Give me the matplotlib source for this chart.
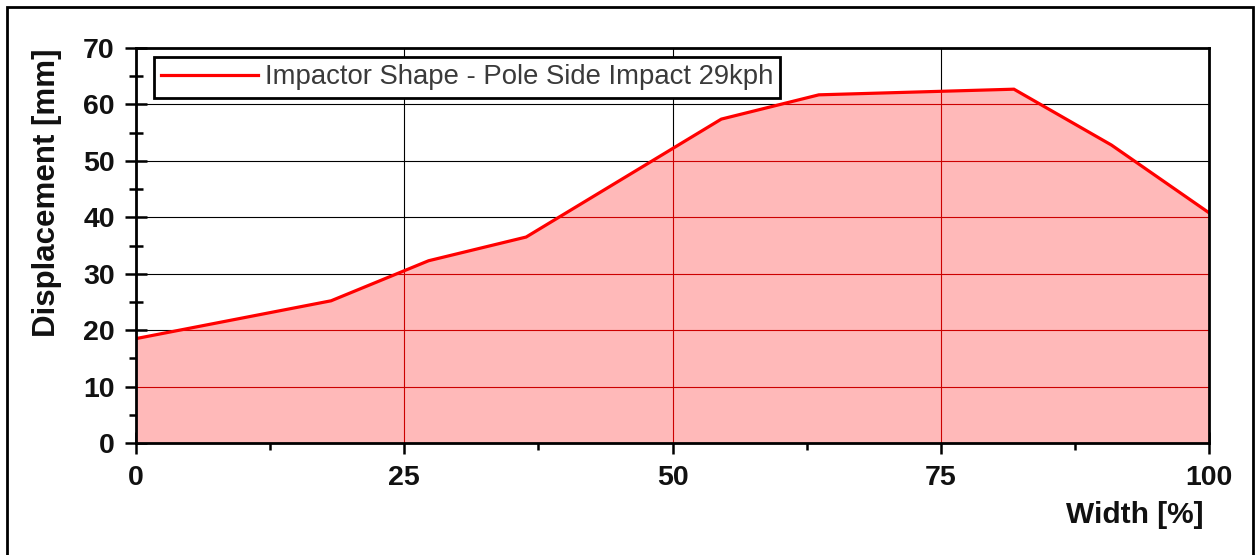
import matplotlib
matplotlib.use("Agg")
import matplotlib.pyplot as plt
from matplotlib.patches import Rectangle
from matplotlib.ticker import MultipleLocator

width_pct = [0, 18.18, 27.27, 36.36, 54.55, 63.64, 81.82, 90.91, 100]
displacement = [18.5, 25.2, 32.3, 36.5, 57.4, 61.7, 62.7, 52.8, 40.8]
series_label = "Impactor Shape - Pole Side Impact 29kph"
x_ticks = [0, 25, 50, 75, 100]
y_ticks = [0, 10, 20, 30, 40, 50, 60, 70]

plt.rcParams['font.family'] = ['Liberation Sans', 'DejaVu Sans']

W, H = 1258, 555
fig = plt.figure(figsize=(W / 100, H / 100), dpi=100)
ax = fig.add_axes([136 / W, 1 - 443 / H, (1209 - 136) / W, (443 - 48) / H])

ax.set_xlim(0, 100)
ax.set_ylim(0, 70)
ax.set_xticks(x_ticks)
ax.set_yticks(y_ticks)
ax.xaxis.set_minor_locator(MultipleLocator(12.5))
ax.yaxis.set_minor_locator(MultipleLocator(5))

# black grid
ax.grid(True, which='major', color='black', linewidth=0.8, zorder=0)
ax.set_axisbelow(True)

poly = ax.fill_between(width_pct, displacement, 0, color='#ffb9b9', linewidth=0, zorder=1)
clip = poly.get_paths()[0]
for xv in x_ticks[1:-1]:
    ln = ax.axvline(xv, color='#cc0000', linewidth=0.8, zorder=1.5)
    ln.set_clip_path(clip, transform=ax.transData)
for yv in y_ticks[1:-1]:
    ln = ax.axhline(yv, color='#cc0000', linewidth=0.8, zorder=1.5)
    ln.set_clip_path(clip, transform=ax.transData)

ax.plot(width_pct, displacement, color='#ff0000', linewidth=2.3, zorder=3,
        label=series_label, solid_joinstyle='miter')

for s in ax.spines.values():
    s.set_linewidth(2.0)
    s.set_color('black')
    s.set_zorder(4)

ax.tick_params(which='major', direction='inout', length=16.5, width=1.8,
               labelsize=20.5, colors='black', labelcolor='#111111')
ax.tick_params(axis='x', which='major', pad=7.5)
ax.tick_params(axis='y', which='major', pad=7)
ax.tick_params(which='minor', direction='inout', length=9.5, width=1.8)
for lab in ax.get_xticklabels() + ax.get_yticklabels():
    lab.set_fontweight('bold')

leg = ax.legend(loc='upper left', bbox_to_anchor=((154 - 136) / 1073, 1 - (57 - 48) / 395),
                borderaxespad=0, fancybox=False, framealpha=1, edgecolor='black',
                fontsize=19.8, handlelength=3.5, handletextpad=0.25, borderpad=0.27)
leg.get_frame().set_linewidth(2.0)
for t in leg.get_texts():
    t.set_color('#3a3a3a')
leg.set_zorder(5)

fig.text(47 / W, 1 - 193 / H, "Displacement [mm]", rotation=90, ha='center', va='center',
         fontsize=22.5, fontweight='bold', color='#111111')
fig.text(1204 / W, 1 - 515 / H, "Width [%]", ha='right', va='center',
         fontsize=21.5, fontweight='bold', color='#111111')

fig.patches.append(Rectangle((7 / W, -0.05), (1253 - 7) / W, 1.05 - 7 / H,
                             transform=fig.transFigure, fill=False,
                             edgecolor='black', linewidth=2.0))

fig.savefig("out.png", dpi=100)
